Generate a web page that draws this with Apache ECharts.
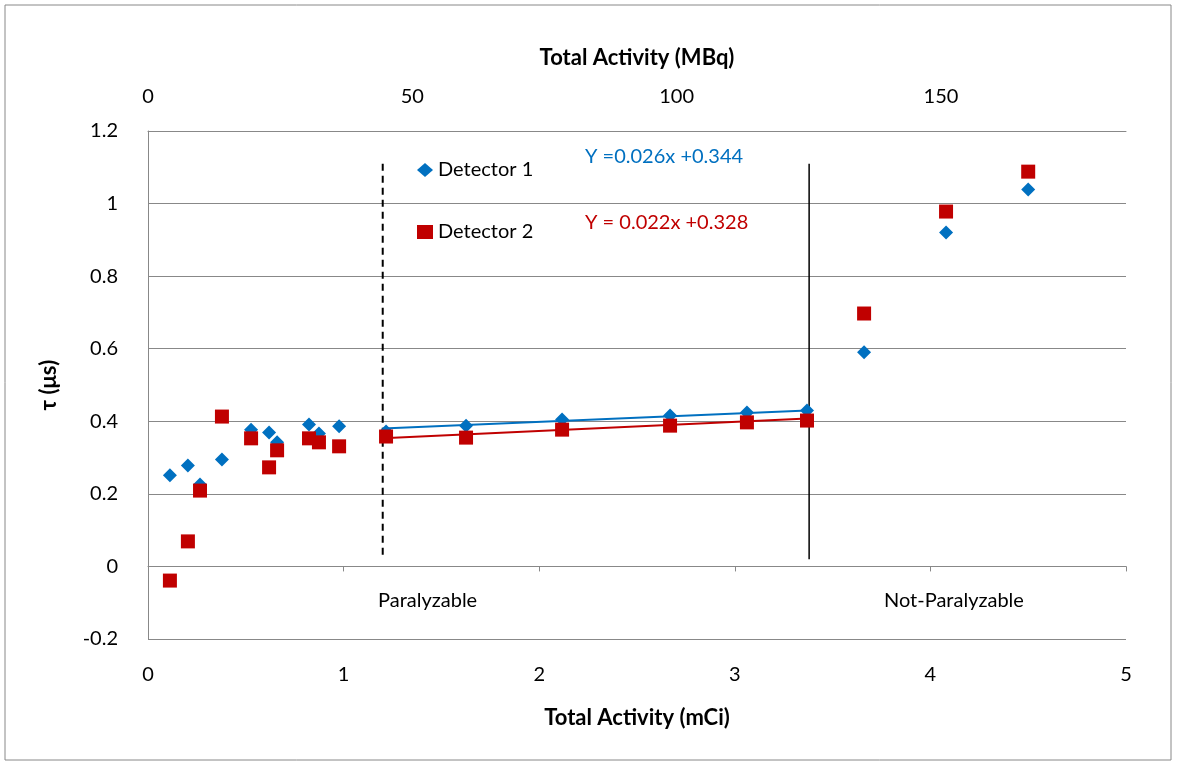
<!DOCTYPE html>
<html lang="en">
<head>
<meta charset="UTF-8">
<title>Dead time vs activity</title>
<script src="https://cdn.jsdelivr.net/npm/echarts@6/dist/echarts.min.js"></script>
<style>html,body{margin:0;padding:0;background:#fff}</style>
</head>
<body>
<div id="main" style="width:1177px;height:765px;"></div>
<script>
const activity = [0.112, 0.204, 0.266, 0.378, 0.527, 0.619, 0.66, 0.823, 0.874, 0.977, 1.217, 1.626, 2.117, 2.669, 3.062, 3.369, 3.661, 4.08, 4.5];
const det1 = [0.251, 0.278, 0.226, 0.295, 0.377, 0.369, 0.342, 0.391, 0.366, 0.386, 0.372, 0.388, 0.405, 0.416, 0.424, 0.43, 0.59, 0.92, 1.039];
const det2 = [-0.039, 0.069, 0.209, 0.413, 0.353, 0.273, 0.32, 0.353, 0.342, 0.331, 0.358, 0.355, 0.377, 0.388, 0.397, 0.402, 0.697, 0.978, 1.088];
const fitX = [1.2, 3.37];
const fit1 = [0.38, 0.43];
const fit2 = [0.353, 0.408];
const dashedX = 1.2, solidX = 3.38, vTop = 1.11, vBottom = 0.02;

const font = 'Lato, "Open Sans", sans-serif';
const zip = (xs, ys) => xs.map((x, i) => [x, ys[i]]);

const chart = echarts.init(document.getElementById('main'));
chart.setOption({
  animation: false,
  textStyle: { fontFamily: font },
  grid: { left: 148, right: 51, top: 131, bottom: 126 },
  graphic: [
    { type: 'rect', shape: { x: 5, y: 5, width: 1166, height: 755 }, style: { fill: 'none', stroke: '#888', lineWidth: 1 } },
    { type: 'text', left: 378, top: 591, style: { text: 'Paralyzable', font: '20px ' + font, fill: '#000' } },
    { type: 'text', left: 884, top: 591, style: { text: 'Not-Paralyzable', font: '20px ' + font, fill: '#000' } },
    { type: 'text', left: 585, top: 147, style: { text: 'Y =0.026x +0.344', font: '20px ' + font, fill: '#0070C0' } },
    { type: 'text', left: 585, top: 213, style: { text: 'Y = 0.022x +0.328', font: '20px ' + font, fill: '#C00000' } }
  ],
  legend: {
    orient: 'vertical', left: 412, top: 155, itemGap: 42, itemWidth: 16, itemHeight: 14,
    textStyle: { fontSize: 20, color: '#000', fontFamily: font },
    data: [{ name: 'Detector 1', icon: 'diamond' }, { name: 'Detector 2', icon: 'rect' }]
  },
  xAxis: [
    {
      type: 'value', min: 0, max: 5, interval: 1, position: 'bottom',
      name: 'Total Activity (mCi)', nameLocation: 'middle', nameGap: 68,
      nameTextStyle: { fontSize: 22, fontWeight: 'bold', color: '#000' },
      axisLine: { show: true, lineStyle: { color: '#888' } },
      axisTick: { show: true, lineStyle: { color: '#888' } },
      axisLabel: { fontSize: 20, color: '#000', margin: 26 },
      splitLine: { show: false }
    },
    {
      type: 'value', min: 0, max: 185, interval: 50, position: 'top',
      name: 'Total Activity (MBq)', nameLocation: 'middle', nameGap: 62,
      nameTextStyle: { fontSize: 22, fontWeight: 'bold', color: '#000' },
      axisLine: { show: true, lineStyle: { color: '#888' } },
      axisTick: { show: false },
      axisLabel: { fontSize: 20, color: '#000', margin: 24, showMaxLabel: false },
      splitLine: { show: false }
    }
  ],
  yAxis: {
    type: 'value', min: -0.2, max: 1.2, interval: 0.2,
    name: 'τ (μs)', nameLocation: 'middle', nameGap: 88,
    nameTextStyle: { fontSize: 22, fontWeight: 'bold', color: '#000' },
    axisLine: { show: true, lineStyle: { color: '#888' } },
    axisTick: { show: false },
    axisLabel: { fontSize: 20, color: '#000', margin: 30, formatter: v => String(Math.round(v * 10) / 10) },
    splitLine: { lineStyle: { color: '#888' } }
  },
  series: [
    { name: 'Detector 1', type: 'scatter', symbol: 'diamond', symbolSize: 14, itemStyle: { color: '#0070C0', opacity: 1 }, data: zip(activity, det1), z: 3 },
    { name: 'Detector 2', type: 'scatter', symbol: 'rect', symbolSize: 14, itemStyle: { color: '#C00000', opacity: 1 }, data: zip(activity, det2), z: 4 },
    { name: 'fit1', type: 'line', showSymbol: false, lineStyle: { color: '#0070C0', width: 2 }, data: zip(fitX, fit1) },
    { name: 'fit2', type: 'line', showSymbol: false, lineStyle: { color: '#C00000', width: 2 }, data: zip(fitX, fit2) },
    { name: 'dash', type: 'line', showSymbol: false, lineStyle: { color: '#000', width: 2, type: [7, 5] }, data: [[dashedX, vTop], [dashedX, vBottom]] },
    { name: 'solid', type: 'line', showSymbol: false, lineStyle: { color: '#000', width: 1.5 }, data: [[solidX, vTop], [solidX, vBottom]] }
  ]
});
</script>
</body>
</html>
